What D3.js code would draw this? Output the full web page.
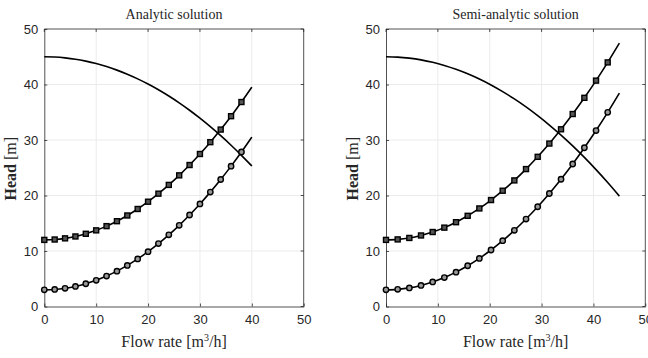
<!DOCTYPE html>
<html>
<head>
<meta charset="utf-8">
<script src="https://cdn.jsdelivr.net/npm/d3@7"></script>
<style>
  body { margin: 0; background: #fff; }
  svg { display: block; }
  .tick text { font-family: "Liberation Sans", Arial, sans-serif; font-size: 13px; fill: #262626; }
  .serif { font-family: "Liberation Serif", "DejaVu Serif", serif; fill: #262626; }
</style>
</head>
<body>
<div id="app"></div>
<script>
const WIDTH = 648;
const HEIGHT = 358;

const xTicks = [0, 10, 20, 30, 40, 50];
const yTicks = [0, 10, 20, 30, 40, 50];

// Analytic solution, Q step 2
const flowA = [0, 2, 4, 6, 8, 10, 12, 14, 16, 18, 20, 22, 24, 26, 28, 30, 32, 34, 36, 38, 40];
const pumpA = [45, 44.95, 44.80, 44.56, 44.21, 43.77, 43.23, 42.59, 41.85, 41.01, 40.08, 39.05, 37.92, 36.69, 35.36, 33.93, 32.40, 30.78, 29.06, 27.24, 25.32];
const sysHighA = [12, 12.07, 12.28, 12.62, 13.10, 13.72, 14.48, 15.37, 16.40, 17.57, 18.88, 20.33, 21.91, 23.63, 25.49, 27.48, 29.61, 31.88, 34.29, 36.84, 39.52];
const sysLowA = [3, 3.07, 3.28, 3.62, 4.10, 4.72, 5.48, 6.37, 7.40, 8.57, 9.88, 11.33, 12.91, 14.63, 16.49, 18.48, 20.61, 22.88, 25.29, 27.84, 30.52];

// Semi-analytic solution, Q step 2.25
const flowB = [0, 2.25, 4.5, 6.75, 9, 11.25, 13.5, 15.75, 18, 20.25, 22.5, 24.75, 27, 29.25, 31.5, 33.75, 36, 38.25, 40.5, 42.75, 45];
const pumpB = [45, 44.94, 44.75, 44.44, 44.00, 43.43, 42.74, 41.92, 40.98, 39.92, 38.72, 37.40, 35.96, 34.39, 32.70, 30.88, 28.93, 26.86, 24.66, 22.34, 19.89];
const sysHighB = [12, 12.09, 12.35, 12.80, 13.42, 14.21, 15.19, 16.34, 17.67, 19.18, 20.86, 22.72, 24.76, 26.97, 29.36, 31.93, 34.68, 37.60, 40.70, 43.98, 47.44];
const sysLowB = [3, 3.09, 3.35, 3.80, 4.42, 5.21, 6.19, 7.34, 8.67, 10.18, 11.86, 13.72, 15.76, 17.97, 20.36, 22.93, 25.68, 28.60, 31.70, 34.98, 38.44];

const panels = [
  { title: 'Analytic solution', left: 44.3, right: 303.7, flow: flowA, pump: pumpA, high: sysHighA, low: sysLowA },
  { title: 'Semi-analytic solution', left: 386, right: 645.3, flow: flowB, pump: pumpB, high: sysHighB, low: sysLowB }
];

const TOP = 29;
const BOTTOM = 306.5;

const svg = d3.select('#app')
  .append('svg')
  .attr('width', WIDTH)
  .attr('height', HEIGHT);

panels.forEach(drawPanel);

function drawPanel(p) {
  const x = d3.scaleLinear().domain([0, 50]).range([p.left, p.right]);
  const y = d3.scaleLinear().domain([0, 50]).range([BOTTOM, TOP]);
  const g = svg.append('g');

  // grid
  g.append('g').selectAll('line.gx')
    .data(xTicks.slice(1, -1))
    .join('line')
    .attr('x1', d => x(d)).attr('x2', d => x(d))
    .attr('y1', TOP).attr('y2', BOTTOM)
    .attr('stroke', '#ebebeb').attr('stroke-width', 1);
  g.append('g').selectAll('line.gy')
    .data(yTicks.slice(1, -1))
    .join('line')
    .attr('x1', p.left).attr('x2', p.right)
    .attr('y1', d => y(d)).attr('y2', d => y(d))
    .attr('stroke', '#ebebeb').attr('stroke-width', 1);

  // axes
  const xAxis = g.append('g')
    .attr('transform', `translate(0,${BOTTOM})`)
    .call(d3.axisBottom(x).tickValues(xTicks).tickSizeInner(-3).tickSizeOuter(0).tickPadding(8));
  const yAxis = g.append('g')
    .attr('transform', `translate(${p.left},0)`)
    .call(d3.axisLeft(y).tickValues(yTicks).tickSizeInner(-3).tickSizeOuter(0).tickPadding(6));
  [xAxis, yAxis].forEach(a => {
    a.select('.domain').attr('stroke', '#262626').attr('stroke-width', 0.8);
    a.selectAll('.tick line').attr('stroke', '#262626').attr('stroke-width', 0.8);
  });

  // top and right box edges
  g.append('line')
    .attr('x1', p.left).attr('x2', p.right).attr('y1', TOP).attr('y2', TOP)
    .attr('stroke', '#262626').attr('stroke-width', 0.8);
  g.append('line')
    .attr('x1', p.right).attr('x2', p.right).attr('y1', TOP).attr('y2', BOTTOM)
    .attr('stroke', '#262626').attr('stroke-width', 0.8);
  // inner ticks on the top and right edges
  g.append('g').selectAll('line')
    .data(xTicks)
    .join('line')
    .attr('x1', d => x(d)).attr('x2', d => x(d))
    .attr('y1', TOP).attr('y2', TOP + 3)
    .attr('stroke', '#262626').attr('stroke-width', 0.8);
  g.append('g').selectAll('line')
    .data(yTicks)
    .join('line')
    .attr('x1', p.right - 3).attr('x2', p.right)
    .attr('y1', d => y(d)).attr('y2', d => y(d))
    .attr('stroke', '#262626').attr('stroke-width', 0.8);

  const line = d3.line()
    .x(d => x(d[0]))
    .y(d => y(d[1]))
    .curve(d3.curveMonotoneX);

  const series = [
    { values: p.pump, marker: null },
    { values: p.high, marker: 'square' },
    { values: p.low, marker: 'circle' }
  ];

  series.forEach(s => {
    const pts = p.flow.map((q, i) => [q, s.values[i]]);
    g.append('path')
      .datum(pts)
      .attr('fill', 'none')
      .attr('stroke', '#000')
      .attr('stroke-width', 1.6)
      .attr('d', line);

    const marks = pts.slice(0, -1);
    if (s.marker === 'square') {
      g.append('g').selectAll('rect')
        .data(marks)
        .join('rect')
        .attr('x', d => x(d[0]) - 2.5)
        .attr('y', d => y(d[1]) - 2.5)
        .attr('width', 5).attr('height', 5)
        .attr('fill', '#555')
        .attr('stroke', '#000')
        .attr('stroke-width', 1.4);
    } else if (s.marker === 'circle') {
      g.append('g').selectAll('circle')
        .data(marks)
        .join('circle')
        .attr('cx', d => x(d[0]))
        .attr('cy', d => y(d[1]))
        .attr('r', 2.7)
        .attr('fill', '#999')
        .attr('stroke', '#000')
        .attr('stroke-width', 1.4);
    }
  });

  const cx = (p.left + p.right) / 2;

  g.append('text')
    .attr('class', 'serif')
    .attr('x', cx)
    .attr('y', 19)
    .attr('text-anchor', 'middle')
    .style('font-size', '14px')
    .text(p.title);

  const xl = g.append('text')
    .attr('class', 'serif')
    .attr('x', cx)
    .attr('y', 347)
    .attr('text-anchor', 'middle')
    .style('font-size', '16px');
  xl.append('tspan').text('Flow rate [m');
  xl.append('tspan').attr('dy', -6).style('font-size', '10px').text('3');
  xl.append('tspan').attr('dy', 6).text('/h]');

  const yl = g.append('text')
    .attr('class', 'serif')
    .attr('transform', `translate(${p.left - 28},${(TOP + BOTTOM) / 2 + 1}) rotate(-90)`)
    .attr('text-anchor', 'middle')
    .style('font-size', '16px');
  yl.append('tspan').style('font-weight', 'bold').text('Head');
  yl.append('tspan').text(' [m]');
}
</script>
</body>
</html>
